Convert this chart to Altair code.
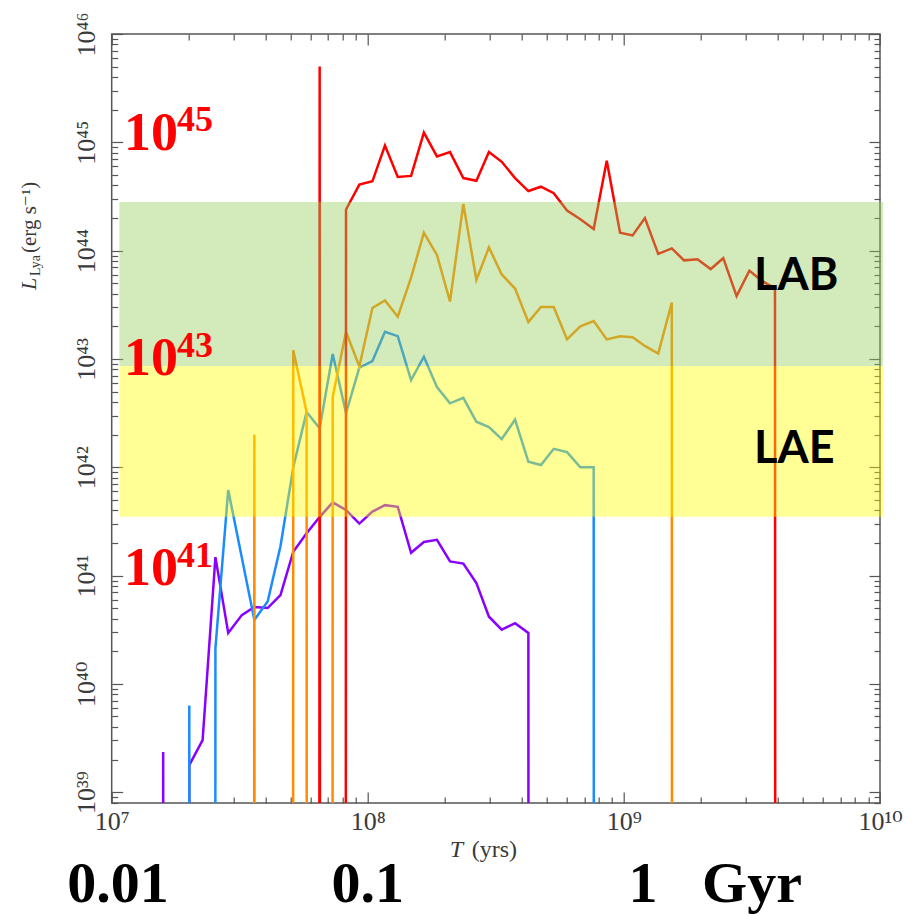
import altair as alt
import pandas as pd

# ---------------------------------------------------------------- data
# log10 of luminosity used for time bins with no emission (L = 0); far below the axis floor
ZERO = -300.0

SERIES_NAMES = ["purple", "blue", "orange", "red"]

PURPLE_LOGT = [7.150, 7.201, 7.252, 7.303, 7.355, 7.405, 7.455, 7.508, 7.557, 7.609,
               7.659, 7.709, 7.761, 7.812, 7.863, 7.915, 7.967, 8.018, 8.067, 8.117,
               8.169, 8.219, 8.270, 8.321, 8.373, 8.424, 8.473, 8.523, 8.575, 8.627,
               8.676]
PURPLE_LOGL = [ZERO, 39.37, ZERO, 39.25, 39.48, 41.17, 40.47, 40.635, 40.71, 40.70,
               40.82, 41.22, 41.39, 41.54, 41.676, 41.605, 41.48, 41.59, 41.65, 41.635,
               41.21, 41.31, 41.33, 41.13, 41.11, 40.93, 40.62, 40.50, 40.56, 40.47,
               ZERO]

BLUE_LOGT = [7.252, 7.303, 7.355, 7.405, 7.455, 7.557, 7.609, 7.659, 7.709, 7.761,
             7.812, 7.863, 7.915, 7.967, 8.018, 8.067, 8.117, 8.169, 8.219, 8.270,
             8.321, 8.373, 8.424, 8.473, 8.523, 8.575, 8.627, 8.676, 8.726, 8.778,
             8.830, 8.882, 8.933]
BLUE_LOGL = [ZERO, 39.80, ZERO, 40.33, 41.79, 40.59, 40.76, 41.27, 42.00, 42.51,
             42.36, 43.045, 42.50, 42.92, 42.98, 43.25, 43.21, 42.805, 43.02, 42.74,
             42.59, 42.64, 42.42, 42.37, 42.26, 42.44, 42.05, 42.02, 42.17, 42.14,
             42.00, 42.00, ZERO]

ORANGE_LOGT = [7.506, 7.557, 7.608, 7.659, 7.709, 7.761, 7.812, 7.863, 7.915, 7.967,
               8.018, 8.067, 8.117, 8.169, 8.219, 8.270, 8.321, 8.373, 8.424, 8.473,
               8.523, 8.575, 8.627, 8.676, 8.726, 8.778, 8.830, 8.882, 8.933, 8.985,
               9.034, 9.082, 9.134, 9.187, 9.235]
ORANGE_LOGL = [ZERO, 42.30, ZERO, ZERO, 43.08, 42.51, ZERO, 42.65, 43.25, 42.93,
               43.47, 43.54, 43.39, 43.75, 44.165, 43.96, 43.53, 44.43, 43.73, 44.03,
               43.78, 43.65, 43.34, 43.48, 43.48, 43.18, 43.30, 43.35, 43.18, 43.21,
               43.20, 43.12, 43.05, 43.52, ZERO]

RED_LOGT = [7.761, 7.812, 7.863, 7.915, 7.967, 8.018, 8.067, 8.117, 8.169, 8.219,
            8.270, 8.321, 8.373, 8.424, 8.473, 8.523, 8.575, 8.627, 8.676, 8.726,
            8.778, 8.830, 8.882, 8.933, 8.985, 9.034, 9.082, 9.134, 9.187, 9.235,
            9.287, 9.339, 9.388, 9.440, 9.490, 9.539, 9.590, 9.640]
RED_LOGL = [ZERO, 45.70, ZERO, 44.38, 44.61, 44.64, 44.97, 44.68, 44.69, 45.09,
            44.87, 44.91, 44.67, 44.645, 44.91, 44.82, 44.67, 44.55, 44.59, 44.53,
            44.37, 44.29, 44.20, 44.83, 44.165, 44.14, 44.30, 43.97, 44.02, 43.91,
            43.92, 43.83, 43.93, 43.58, 43.815, 43.72, 43.65, ZERO]

# shaded luminosity bands (log10 values)
BAND_NAMES = ["LAB", "LAE"]
BAND_LOGT_START = [7.03, 7.03]
BAND_LOGT_END = [10.012, 10.012]
BAND_LOGL_LOW = [42.934, 41.543]
BAND_LOGL_HIGH = [44.449, 42.934]

# annotations
BIG_BASE_TEXT = ["10", "10", "10"]
BIG_EXP_TEXT = ["45", "43", "41"]
BIG_BASE_LOGT = [7.048, 7.048, 7.048]
BIG_EXP_LOGT = [7.255, 7.255, 7.255]
BIG_BASE_LOGL = [44.93, 42.85, 40.91]
BIG_EXP_LOGL = [45.10, 43.02, 41.08]

BAND_LABELS = ["LAB", "LAE"]
BAND_LABEL_LOGT = [9.508, 9.508]
BAND_LABEL_LOGL = [43.636, 42.04]

GYR_TEXT = ["0.01", "0.1", "1", "Gyr"]
GYR_LOGT = [7.025, 8.0, 9.075, 9.50]

X_DECADES = [7, 8, 9, 10]
Y_DECADES = [39, 40, 41, 42, 43, 44, 45, 46]

# ---------------------------------------------------------------- frames
series_logt = [PURPLE_LOGT, BLUE_LOGT, ORANGE_LOGT, RED_LOGT]
series_logl = [PURPLE_LOGL, BLUE_LOGL, ORANGE_LOGL, RED_LOGL]
rows = []
for name, lt, ll in zip(SERIES_NAMES, series_logt, series_logl):
    for i, (a, b) in enumerate(zip(lt, ll)):
        rows.append({"series": name, "i": i, "T": 10 ** a, "L": 10 ** b})
lines_df = pd.DataFrame(rows)

bands_df = pd.DataFrame({
    "band": BAND_NAMES,
    "T0": [10 ** v for v in BAND_LOGT_START],
    "T1": [10 ** v for v in BAND_LOGT_END],
    "Llo": [10 ** v for v in BAND_LOGL_LOW],
    "Lhi": [10 ** v for v in BAND_LOGL_HIGH],
})

base_df = pd.DataFrame({"text": BIG_BASE_TEXT,
                        "T": [10 ** v for v in BIG_BASE_LOGT],
                        "L": [10 ** v for v in BIG_BASE_LOGL]})
exp_df = pd.DataFrame({"text": BIG_EXP_TEXT,
                       "T": [10 ** v for v in BIG_EXP_LOGT],
                       "L": [10 ** v for v in BIG_EXP_LOGL]})
bandlab_df = pd.DataFrame({"text": BAND_LABELS,
                           "T": [10 ** v for v in BAND_LABEL_LOGT],
                           "L": [10 ** v for v in BAND_LABEL_LOGL]})
gyr_df = pd.DataFrame({"text": GYR_TEXT, "T": [10 ** v for v in GYR_LOGT]})

# ---------------------------------------------------------------- styling
W, H = 768.3, 769.0
SERIF = "Liberation Serif, DejaVu Serif, serif"
AXC = "#555555"
LABC = "#3a3a3a"
SERIES_COLORS = ["#8a00ff", "#1a8cff", "#ff8c00", "#ff0000"]
BAND_COLORS = ["#95cc5b", "#ffff00"]

SUP = str.maketrans("0123456789", "⁰¹²³⁴⁵⁶⁷⁸⁹")
LOG10 = "(log(datum.value)/LN10)"


def decade_labels(decades):
    parts = [f"abs({LOG10} - {e}) < 0.01 ? '10{str(e).translate(SUP)}'" for e in decades]
    return " : ".join(parts) + " : ''"


MAJOR = f"abs({LOG10} - round({LOG10})) < 0.01"
TICK_SIZE = {"condition": {"test": MAJOR, "value": 11}, "value": 6}

XS = alt.Scale(type="log", domain=[1e7, 1e10], nice=False, zero=False)
YS = alt.Scale(type="log", domain=[10 ** 38.9, 1e46], nice=False, zero=False)


def tick_axis(orient, offset):
    return alt.Axis(orient=orient, offset=offset, ticks=True, tickSize=TICK_SIZE,
                    tickColor=AXC, tickWidth=1.2, labels=False, domain=False,
                    grid=False, title=None)


AX_LABELS = alt.Axis(orient="bottom", ticks=False, domain=False, grid=False,
                     labelExpr=decade_labels(X_DECADES), labelFont=SERIF,
                     labelFontSize=26, labelColor=LABC, labelPadding=5,
                     labelFlush=False, labelOverlap=False, labelBound=False, title=None)
AY_LABELS = alt.Axis(orient="left", ticks=False, domain=False, grid=False,
                     labelExpr=decade_labels(Y_DECADES), labelFont=SERIF,
                     labelFontSize=26, labelColor=LABC, labelAngle=270,
                     labelAlign="center", labelBaseline="alphabetic", labelPadding=17,
                     labelFlush=False, labelOverlap=False, labelBound=False, title=None)

# ---------------------------------------------------------------- layers
lines = alt.Chart(lines_df).mark_line(clip=True, strokeWidth=2.5).encode(
    x=alt.X("T:Q", scale=XS, axis=AX_LABELS),
    y=alt.Y("L:Q", scale=YS, axis=AY_LABELS),
    color=alt.Color("series:N", scale=alt.Scale(domain=SERIES_NAMES, range=SERIES_COLORS),
                    legend=None),
    order=alt.Order("i:Q"),
)

bands = alt.Chart(bands_df).mark_rect(clip=False, opacity=0.41).encode(
    x=alt.X("T0:Q", scale=XS, axis=tick_axis("top", -H)),
    x2="T1:Q",
    y=alt.Y("Llo:Q", scale=YS, axis=tick_axis("right", -W)),
    y2="Lhi:Q",
    color=alt.Color("band:N", scale=alt.Scale(domain=BAND_NAMES, range=BAND_COLORS),
                    legend=None),
)

big_base = alt.Chart(base_df).mark_text(
    font=SERIF, fontWeight="bold", fontSize=54, color="#ff0000",
    align="left", baseline="alphabetic", clip=False,
).encode(
    x=alt.X("T:Q", scale=XS, axis=tick_axis("bottom", -H)),
    y=alt.Y("L:Q", scale=YS, axis=tick_axis("left", -W)),
    text="text:N",
)

big_exp = alt.Chart(exp_df).mark_text(
    font=SERIF, fontWeight="bold", fontSize=36, color="#ff0000",
    align="left", baseline="alphabetic", clip=False,
).encode(
    x=alt.X("T:Q", scale=XS, axis=None),
    y=alt.Y("L:Q", scale=YS, axis=None),
    text="text:N",
)

band_labels = alt.Chart(bandlab_df).mark_text(
    font="Lato", fontWeight="bold", fontSize=45, color="#000000",
    align="left", baseline="alphabetic", clip=False,
).encode(
    x=alt.X("T:Q", scale=XS, axis=None),
    y=alt.Y("L:Q", scale=YS, axis=None),
    text="text:N",
)

gyr = alt.Chart(gyr_df).mark_text(
    font=SERIF, fontWeight="bold", fontSize=58, color="#000000",
    align="center", baseline="alphabetic", clip=False,
).encode(
    x=alt.X("T:Q", scale=XS, axis=None),
    y=alt.value(868),
    text="text:N",
)

title_src = pd.DataFrame({"k": [0]})


def title_piece(text, px, py, size, style="normal", angle=0):
    return alt.Chart(title_src).mark_text(
        text=text, font=SERIF, fontSize=size, fontStyle=style, color=LABC,
        align="left", baseline="alphabetic", angle=angle, clip=False,
    ).encode(x=alt.value(px), y=alt.value(py))


x_title = title_piece("T", 338, 823, 24, "italic") + title_piece("(yrs)", 360, 823, 24)
y_title = (title_piece("L", -76, 256, 22, "italic", 270)
           + title_piece("Lya", -72, 242, 14, "normal", 270)
           + title_piece("(erg s⁻¹)", -76, 219, 21, "normal", 270))

chart = alt.layer(
    lines, bands, big_base, big_exp, band_labels, gyr, x_title, y_title
).resolve_axis(x="independent", y="independent").resolve_scale(
    color="independent"
).properties(
    width=W, height=H,
    autosize=alt.AutoSizeParams(type="none"),
    padding={"left": 111.7, "top": 34, "right": 40, "bottom": 113},
    background="white",
).configure_view(stroke=AXC, strokeWidth=1.5)

chart.save("out.html", embed_options={"renderer": "svg", "actions": False})
